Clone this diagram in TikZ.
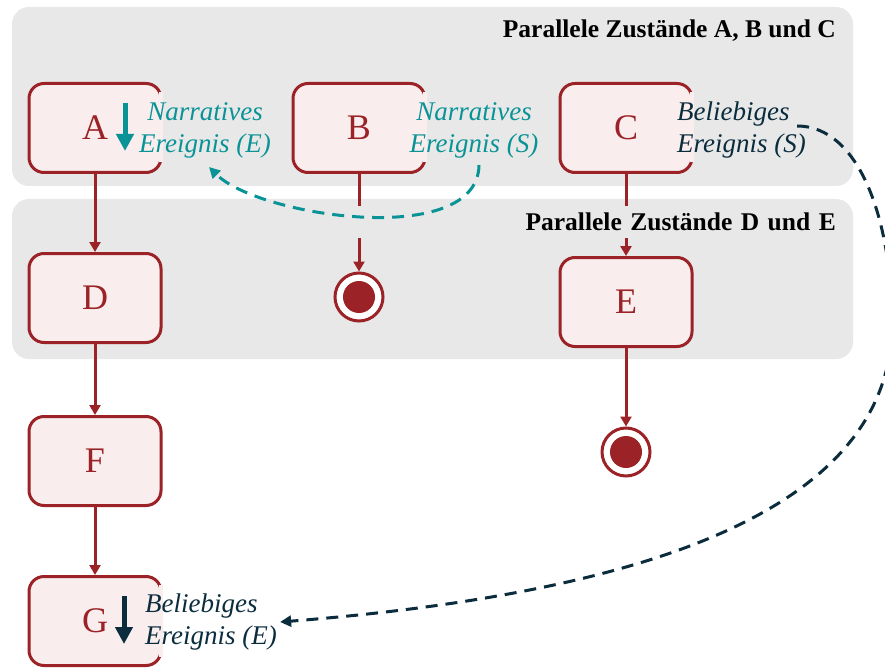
\documentclass[tikz,border=0pt]{standalone}
\usepackage{fontspec}
\setmainfont{Liberation Serif}
\usetikzlibrary{calc,arrows.meta}
\definecolor{zrot}{HTML}{9B2226}
\definecolor{zrosa}{HTML}{F9EDED}
\definecolor{zgrau}{HTML}{E8E8E8}
\definecolor{zteal}{HTML}{0A9396}
\definecolor{zdunkel}{HTML}{0B2C3D}
\tikzset{
	zustand/.style={draw=zrot, fill=zrosa, line width=3pt, rounded corners=15pt, minimum width=132pt, minimum height=89pt, text=zrot, font=\fontsize{36}{40}\selectfont},
	endzustand/.style={circle, draw=zrot, fill=white, line width=3pt, minimum size=48pt, inner sep=0pt, path picture={\fill[zrot] (path picture bounding box.center) circle (16pt);}},
	ereignis/.style={inner sep=3pt, font=\fontsize{27}{32}\selectfont\itshape},
	titel/.style={inner sep=4pt, font=\fontsize{25.5}{30}\selectfont\bfseries},
	uebergang/.style={draw=zrot, line width=3pt, -{Triangle[width=11pt,length=10pt]}},
	signal/.style={line width=3pt, dash pattern=on 12pt off 8pt, -{Triangle[width=11pt,length=11pt]}},
	pfeil/.style={line width=5pt, -{Triangle[width=17pt,length=17pt]}}
}

\begin{document}
\begin{tikzpicture}[x=1pt,y=-1pt]
	%%%%% START %%%%%
	\useasboundingbox (0,0) rectangle (885,668);
	
	\fill[zgrau, rounded corners=17pt] (12,7) rectangle (853,186);
	\fill[zgrau, rounded corners=17pt] (12,199) rectangle (853,359);
	\node[titel, anchor=east] (titelABC) at (840,31) {Parallele Zustände A, B und C};
	
	\node[zustand] (A) at (95,128) {A};
	\node[zustand] (B) at (359,128) {B};
	\node[zustand] (C) at (626,128) {C};
	\node[zustand] (D) at (95,298) {D};
	\node[zustand] (E) at (626,302) {E};
	\node[zustand] (F) at (95,461) {F};
	\node[zustand] (G) at (95,621) {G};
	
	\node[endzustand] (endB) at (359,297) {};
	\node[endzustand] (endE) at (626,452) {};
	
	\draw[uebergang] (A) -- (D);
	\draw[uebergang] (D) -- (F);
	\draw[uebergang] (F) -- (G);
	\draw[uebergang] (B) -- (endB);
	\draw[uebergang] (C) -- (E);
	\draw[uebergang] (E) -- (endE);
	
	\node[titel, fill=zgrau, text width=560pt, align=right, inner ysep=7pt, anchor=east] (titelDE) at (840,222) {Parallele Zustände D und E};
	
	% Ereignisse
	\fill[zrosa] ($(A.east)+(-3.3,-36)$) rectangle ($(A.east)+(0.2,34)$);
	\fill[zrosa] ($(B.east)+(-3.3,-36)$) rectangle ($(B.east)+(0.2,34)$);
	\fill[zrosa] ($(C.east)+(-3.3,-36)$) rectangle ($(C.east)+(0.2,34)$);
	\fill[zrosa] ($(G.east)+(-3.3,-36)$) rectangle ($(G.east)+(0.2,36)$);
	
	\node[ereignis, text=zteal, align=center] (labA) at (205,130) {Narratives\\Ereignis (E)};
	\node[ereignis, text=zteal, align=center] (labB) at (474,130) {Narratives\\Ereignis (S)};
	\node[ereignis, text=zdunkel, align=left, anchor=west] (labC) at (674,130) {Beliebiges\\Ereignis (S)};
	\node[ereignis, text=zdunkel, align=left, anchor=west] (labG) at (142,622) {Beliebiges\\Ereignis (E)};
	
	\draw[pfeil, zteal] (125,103) -- (125,151);
	\draw[pfeil, zdunkel] (124,596) -- (124,644);
	
	\draw[signal, zteal] ([xshift=5pt,yshift=-4pt]labB.south) .. controls +(-1,84) and +(50,50) .. ([xshift=4pt,yshift=-6pt]labA.south);
	
	\coordinate (knick) at (892,330);
	\draw[signal, zdunkel] ([xshift=-12pt,yshift=4pt]labC.east) .. controls +(62,0) and +(1,-110) .. (knick) .. controls +(-7,190) and +(340,-27) .. (labG.east);
	
	%%%%% END %%%%%
\end{tikzpicture}
\end{document}
